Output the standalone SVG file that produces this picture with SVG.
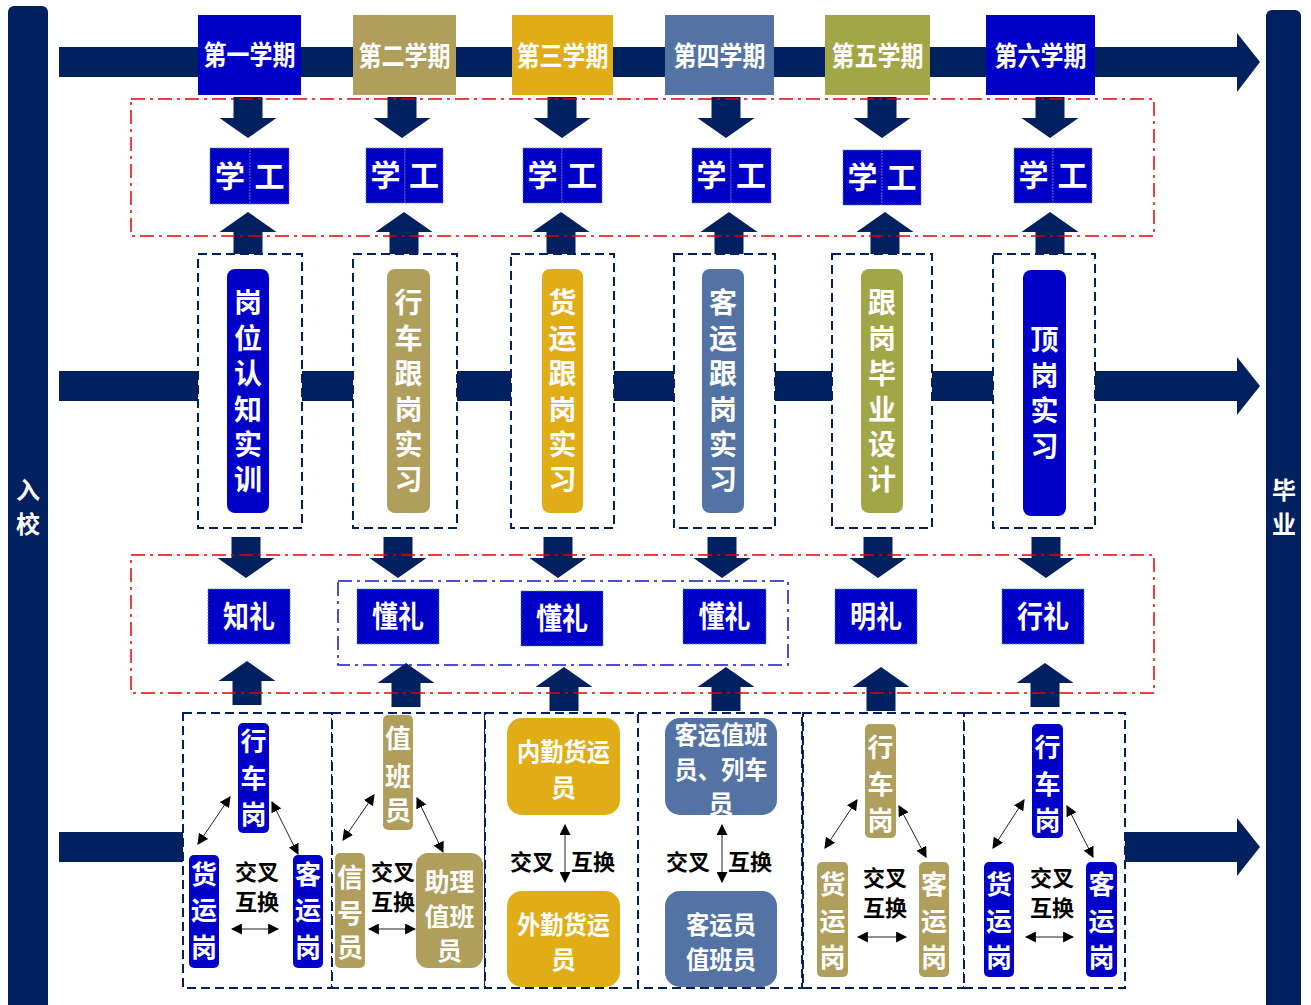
<svg xmlns="http://www.w3.org/2000/svg" width="1311" height="1005" viewBox="0 0 1311 1005">
<style>
.nv{fill:#002060}
.t{font-family:"Noto Sans CJK SC","Noto Sans",sans-serif;font-weight:bold;text-anchor:middle;dominant-baseline:central;transform:translateY(-2px)}
.w{fill:#fff}
.k{fill:#000}
.dash{fill:#fff;stroke:#002060;stroke-width:2;stroke-dasharray:9 5}
.red{fill:none;stroke:#e60000;stroke-width:1.5;stroke-dasharray:14 5 3 5}
.bdd{fill:none;stroke:#1515c8;stroke-width:1.5;stroke-dasharray:14 5 3 5}
.thin{fill:none;stroke:#222;stroke-width:1;marker-start:url(#ah);marker-end:url(#ah)}
.blue{fill:#0000c8}
.tan{fill:#af9e5c}
.gold{fill:#e1ad16}
.steel{fill:#5473a5}
.olive{fill:#a2a647}
.cellL{stroke:#3a9a6a;stroke-width:0.8;stroke-dasharray:2 1}
.cellR{stroke:#8a5acc;stroke-width:0.8;stroke-dasharray:2 1}
</style>
<defs>
<marker id="ah" viewBox="0 0 10 10" refX="9" refY="5" markerWidth="11" markerHeight="11" markerUnits="userSpaceOnUse" orient="auto-start-reverse"><path d="M0,0L10,5L0,10z" fill="#000"/></marker>
<path id="dn" d="M-14.5,0H14.5V21H28.5L0,41L-28.5,21H-14.5Z"/>
<path id="up" d="M0,0L28.5,20H14.5V44H-14.5V20H-28.5Z"/>
</defs>
<rect width="1311" height="1005" fill="#fff"/>

<g id="connectors">
<rect class="nv" x="59" y="47" width="1180" height="30"/>
<polygon class="nv" points="1237,33 1260,62 1237,92"/>
<rect class="nv" x="59" y="371" width="1180" height="30"/>
<polygon class="nv" points="1237,357 1260,386 1237,415"/>
<rect class="nv" x="59" y="832" width="1180" height="30"/>
<polygon class="nv" points="1237,818 1260,847 1237,876"/>
<g class="nv">
<use href="#dn" x="248" y="97"/>
<use href="#dn" x="402" y="97"/>
<use href="#dn" x="562" y="97"/>
<use href="#dn" x="726" y="97"/>
<use href="#dn" x="882" y="97"/>
<use href="#dn" x="1050" y="97"/>
<use href="#up" x="248" y="212"/>
<use href="#up" x="404" y="212"/>
<use href="#up" x="561" y="212"/>
<use href="#up" x="729" y="212"/>
<use href="#up" x="885" y="212"/>
<use href="#up" x="1050" y="212"/>
<use href="#dn" x="246" y="537"/>
<use href="#dn" x="398" y="537"/>
<use href="#dn" x="558" y="537"/>
<use href="#dn" x="722" y="537"/>
<use href="#dn" x="878" y="537"/>
<use href="#dn" x="1046" y="537"/>
<use href="#up" x="247" y="661"/>
<use href="#up" x="406" y="663"/>
<use href="#up" x="564" y="667"/>
<use href="#up" x="726" y="667"/>
<use href="#up" x="881" y="667"/>
<use href="#up" x="1045" y="663"/>
</g>
</g>

<g id="enter">
<rect class="nv" x="8" y="6" width="40" height="1010" rx="6"/>
<text class="t w" x="28" y="490" font-size="24">入</text>
<text class="t w" x="28" y="524" font-size="24">校</text>
</g>
<g id="graduate">
<rect class="nv" x="1266" y="10" width="35" height="1010" rx="6"/>
<text class="t w" x="1284" y="490" font-size="24">毕</text>
<text class="t w" x="1284" y="524" font-size="24">业</text>
</g>

<g id="semesters">
<g id="sem1"><rect class="blue" x="198" y="15" width="103" height="80"/><text class="t w" x="249.5" y="55" font-size="27" textLength="92" lengthAdjust="spacingAndGlyphs">第一学期</text></g>
<g id="sem2"><rect class="tan" x="353" y="15" width="103" height="80"/><text class="t w" x="404.5" y="56" font-size="27" textLength="92" lengthAdjust="spacingAndGlyphs">第二学期</text></g>
<g id="sem3"><rect class="gold" x="512" y="15" width="101" height="80"/><text class="t w" x="562.5" y="56" font-size="27" textLength="92" lengthAdjust="spacingAndGlyphs">第三学期</text></g>
<g id="sem4"><rect class="steel" x="665" y="15" width="109" height="80"/><text class="t w" x="719.5" y="56" font-size="27" textLength="92" lengthAdjust="spacingAndGlyphs">第四学期</text></g>
<g id="sem5"><rect class="olive" x="825" y="15" width="105" height="80"/><text class="t w" x="877.5" y="56" font-size="27" textLength="92" lengthAdjust="spacingAndGlyphs">第五学期</text></g>
<g id="sem6"><rect class="blue" x="986" y="15" width="109" height="80"/><text class="t w" x="1040.5" y="56" font-size="27" textLength="92" lengthAdjust="spacingAndGlyphs">第六学期</text></g>
</g>

<g id="xuegong">
<g id="xg1"><rect class="blue cellL" x="210" y="148" width="40" height="56"/><rect class="blue cellR" x="250" y="148" width="39" height="56"/><text class="t w" x="230" y="176" font-size="30">学</text><text class="t w" x="269.5" y="176" font-size="30">工</text></g>
<g id="xg2"><rect class="blue cellL" x="366" y="148" width="39" height="55"/><rect class="blue cellR" x="405" y="148" width="38" height="55"/><text class="t w" x="385.5" y="175" font-size="30">学</text><text class="t w" x="424" y="175" font-size="30">工</text></g>
<g id="xg3"><rect class="blue cellL" x="523" y="148" width="39" height="55"/><rect class="blue cellR" x="562" y="148" width="40" height="55"/><text class="t w" x="542.5" y="175" font-size="30">学</text><text class="t w" x="582" y="175" font-size="30">工</text></g>
<g id="xg4"><rect class="blue cellL" x="692" y="148" width="39" height="55"/><rect class="blue cellR" x="731" y="148" width="40" height="55"/><text class="t w" x="711.5" y="175" font-size="30">学</text><text class="t w" x="751" y="175" font-size="30">工</text></g>
<g id="xg5"><rect class="blue cellL" x="843" y="150" width="39" height="55"/><rect class="blue cellR" x="882" y="150" width="39" height="55"/><text class="t w" x="862.5" y="177" font-size="30">学</text><text class="t w" x="901.5" y="177" font-size="30">工</text></g>
<g id="xg6"><rect class="blue cellL" x="1014" y="148" width="39" height="55"/><rect class="blue cellR" x="1053" y="148" width="39" height="55"/><text class="t w" x="1033.5" y="175" font-size="30">学</text><text class="t w" x="1072.5" y="175" font-size="30">工</text></g>
</g>

<g id="practice">
<g id="p1"><rect class="dash" x="198" y="254" width="104" height="274"/><rect class="blue" x="227" y="269" width="42" height="244" rx="8"/>
<text class="t w" font-size="28"><tspan x="248" y="303">岗</tspan><tspan x="248" y="338.5">位</tspan><tspan x="248" y="374">认</tspan><tspan x="248" y="409.5">知</tspan><tspan x="248" y="445">实</tspan><tspan x="248" y="480">训</tspan></text></g>
<g id="p2"><rect class="dash" x="353" y="254" width="104" height="274"/><rect class="tan" x="387" y="269" width="43" height="244" rx="8"/>
<text class="t w" font-size="28"><tspan x="408.5" y="303">行</tspan><tspan x="408.5" y="338.5">车</tspan><tspan x="408.5" y="374">跟</tspan><tspan x="408.5" y="409.5">岗</tspan><tspan x="408.5" y="445">实</tspan><tspan x="408.5" y="480">习</tspan></text></g>
<g id="p3"><rect class="dash" x="511" y="254" width="103" height="274"/><rect class="gold" x="542" y="269" width="41" height="244" rx="8"/>
<text class="t w" font-size="28"><tspan x="562.5" y="303">货</tspan><tspan x="562.5" y="338.5">运</tspan><tspan x="562.5" y="374">跟</tspan><tspan x="562.5" y="409.5">岗</tspan><tspan x="562.5" y="445">实</tspan><tspan x="562.5" y="480">习</tspan></text></g>
<g id="p4"><rect class="dash" x="674" y="254" width="101" height="274"/><rect class="steel" x="702" y="269" width="42" height="244" rx="8"/>
<text class="t w" font-size="28"><tspan x="723" y="303">客</tspan><tspan x="723" y="338.5">运</tspan><tspan x="723" y="374">跟</tspan><tspan x="723" y="409.5">岗</tspan><tspan x="723" y="445">实</tspan><tspan x="723" y="480">习</tspan></text></g>
<g id="p5"><rect class="dash" x="832" y="254" width="100" height="274"/><rect class="olive" x="861" y="269" width="42" height="244" rx="8"/>
<text class="t w" font-size="28"><tspan x="882" y="303">跟</tspan><tspan x="882" y="338.5">岗</tspan><tspan x="882" y="374">毕</tspan><tspan x="882" y="409.5">业</tspan><tspan x="882" y="445">设</tspan><tspan x="882" y="480">计</tspan></text></g>
<g id="p6"><rect class="dash" x="993" y="254" width="102" height="274"/><rect class="blue" x="1023" y="270" width="43" height="246" rx="8"/>
<text class="t w" font-size="28"><tspan x="1044.5" y="340">顶</tspan><tspan x="1044.5" y="375.5">岗</tspan><tspan x="1044.5" y="411">实</tspan><tspan x="1044.5" y="446.5">习</tspan></text></g>
</g>

<g id="etiquette">
<g id="l1"><rect class="blue cellL" x="208" y="589" width="82" height="55"/><text class="t w" x="249" y="616" font-size="30" textLength="52" lengthAdjust="spacingAndGlyphs">知礼</text></g>
<g id="l2"><rect class="blue cellL" x="357" y="589" width="82" height="55"/><text class="t w" x="398" y="616" font-size="30" textLength="52" lengthAdjust="spacingAndGlyphs">懂礼</text></g>
<g id="l3"><rect class="blue cellL" x="521" y="591" width="82" height="55"/><text class="t w" x="562" y="618" font-size="30" textLength="52" lengthAdjust="spacingAndGlyphs">懂礼</text></g>
<g id="l4"><rect class="blue cellL" x="683" y="589" width="83" height="55"/><text class="t w" x="724.5" y="616" font-size="30" textLength="52" lengthAdjust="spacingAndGlyphs">懂礼</text></g>
<g id="l5"><rect class="blue cellL" x="835" y="589" width="82" height="55"/><text class="t w" x="876" y="616" font-size="30" textLength="52" lengthAdjust="spacingAndGlyphs">明礼</text></g>
<g id="l6"><rect class="blue cellL" x="1002" y="589" width="82" height="55"/><text class="t w" x="1043" y="616" font-size="30" textLength="52" lengthAdjust="spacingAndGlyphs">行礼</text></g>
</g>

<g id="frames">
<rect class="red" x="131" y="99" width="1023" height="137"/>
<rect class="red" x="131" y="555" width="1023" height="138"/>
<rect class="bdd" x="338" y="581" width="450" height="84"/>
</g>

<g id="posts">
<g id="b1"><rect class="dash" x="183" y="713" width="149" height="275"/>
<rect class="blue" x="238" y="723" width="31" height="110" rx="5"/>
<text class="t w" font-size="26"><tspan x="253.5" y="741">行</tspan><tspan x="253.5" y="778">车</tspan><tspan x="253.5" y="814">岗</tspan></text>
<rect class="blue" x="189" y="855" width="30" height="113" rx="5"/>
<text class="t w" font-size="26"><tspan x="204" y="874">货</tspan><tspan x="204" y="910">运</tspan><tspan x="204" y="947">岗</tspan></text>
<rect class="blue" x="293" y="855" width="30" height="113" rx="5"/>
<text class="t w" font-size="26"><tspan x="308" y="874">客</tspan><tspan x="308" y="910">运</tspan><tspan x="308" y="947">岗</tspan></text>
<text class="t k" font-size="22"><tspan x="257" y="872">交叉</tspan><tspan x="257" y="902">互换</tspan></text>
<line class="thin" x1="232" y1="929" x2="278" y2="929"/>
<line class="thin" x1="230" y1="797" x2="198" y2="844"/>
<line class="thin" x1="272" y1="802" x2="298" y2="854"/>
</g>
<g id="b2"><rect class="dash" x="332" y="713" width="153" height="275"/>
<rect class="tan" x="383" y="715" width="30" height="115" rx="5"/>
<text class="t w" font-size="26"><tspan x="398" y="738">值</tspan><tspan x="398" y="776">班</tspan><tspan x="398" y="810">员</tspan></text>
<rect class="tan" x="335" y="853" width="30" height="115" rx="5"/>
<text class="t w" font-size="26"><tspan x="350" y="877">信</tspan><tspan x="350" y="913">号</tspan><tspan x="350" y="947">员</tspan></text>
<rect class="tan" x="416" y="853" width="67" height="115" rx="12"/>
<text class="t w" font-size="25"><tspan x="449.5" y="882">助理</tspan><tspan x="449.5" y="917">值班</tspan><tspan x="449.5" y="951">员</tspan></text>
<text class="t k" font-size="22"><tspan x="393" y="872">交叉</tspan><tspan x="393" y="902">互换</tspan></text>
<line class="thin" x1="369" y1="929" x2="415" y2="929"/>
<line class="thin" x1="374" y1="795" x2="343" y2="840"/>
<line class="thin" x1="417" y1="798" x2="443" y2="852"/>
</g>
<g id="b3"><rect class="dash" x="485" y="713" width="153" height="275"/>
<rect class="gold" x="507" y="718" width="113" height="97" rx="15"/>
<text class="t w" font-size="25"><tspan x="563.5" y="752" textLength="93" lengthAdjust="spacingAndGlyphs">内勤货运</tspan><tspan x="563.5" y="788">员</tspan></text>
<rect class="gold" x="507" y="891" width="113" height="96" rx="15"/>
<text class="t w" font-size="25"><tspan x="563.5" y="925" textLength="93" lengthAdjust="spacingAndGlyphs">外勤货运</tspan><tspan x="563.5" y="960">员</tspan></text>
<line class="thin" x1="565" y1="825" x2="565" y2="882"/>
<text class="t k" font-size="22" x="532" y="862">交叉</text>
<text class="t k" font-size="22" x="593" y="862">互换</text>
</g>
<g id="b4"><rect class="dash" x="638" y="713" width="164" height="275"/>
<rect class="steel" x="665" y="718" width="112" height="97" rx="15"/>
<text class="t w" font-size="25"><tspan x="721" y="735" textLength="93" lengthAdjust="spacingAndGlyphs">客运值班</tspan><tspan x="721" y="770" textLength="93" lengthAdjust="spacingAndGlyphs">员、列车</tspan><tspan x="721" y="804">员</tspan></text>
<rect class="steel" x="665" y="891" width="112" height="96" rx="15"/>
<text class="t w" font-size="25"><tspan x="721" y="925" textLength="70" lengthAdjust="spacingAndGlyphs">客运员</tspan><tspan x="721" y="960" textLength="70" lengthAdjust="spacingAndGlyphs">值班员</tspan></text>
<line class="thin" x1="722" y1="825" x2="722" y2="882"/>
<text class="t k" font-size="22" x="688" y="862">交叉</text>
<text class="t k" font-size="22" x="750" y="862">互换</text>
</g>
<g id="b5"><rect class="dash" x="803" y="713" width="161" height="275"/>
<rect class="tan" x="865" y="724" width="31" height="114" rx="5"/>
<text class="t w" font-size="26"><tspan x="880.5" y="747">行</tspan><tspan x="880.5" y="784">车</tspan><tspan x="880.5" y="820">岗</tspan></text>
<rect class="tan" x="817" y="862" width="31" height="115" rx="5"/>
<text class="t w" font-size="26"><tspan x="832.5" y="884">货</tspan><tspan x="832.5" y="921">运</tspan><tspan x="832.5" y="957">岗</tspan></text>
<rect class="tan" x="919" y="862" width="30" height="115" rx="5"/>
<text class="t w" font-size="26"><tspan x="934" y="884">客</tspan><tspan x="934" y="921">运</tspan><tspan x="934" y="957">岗</tspan></text>
<text class="t k" font-size="22"><tspan x="885" y="878">交叉</tspan><tspan x="885" y="908">互换</tspan></text>
<line class="thin" x1="858" y1="937" x2="906" y2="937"/>
<line class="thin" x1="857" y1="800" x2="825" y2="848"/>
<line class="thin" x1="899" y1="806" x2="926" y2="857"/>
</g>
<g id="b6"><rect class="dash" x="964" y="713" width="161" height="275"/>
<rect class="blue" x="1032" y="724" width="31" height="114" rx="5"/>
<text class="t w" font-size="26"><tspan x="1047.5" y="747">行</tspan><tspan x="1047.5" y="784">车</tspan><tspan x="1047.5" y="820">岗</tspan></text>
<rect class="blue" x="984" y="862" width="30" height="115" rx="5"/>
<text class="t w" font-size="26"><tspan x="999" y="884">货</tspan><tspan x="999" y="921">运</tspan><tspan x="999" y="957">岗</tspan></text>
<rect class="blue" x="1086" y="862" width="31" height="115" rx="5"/>
<text class="t w" font-size="26"><tspan x="1101.5" y="884">客</tspan><tspan x="1101.5" y="921">运</tspan><tspan x="1101.5" y="957">岗</tspan></text>
<text class="t k" font-size="22"><tspan x="1052" y="878">交叉</tspan><tspan x="1052" y="908">互换</tspan></text>
<line class="thin" x1="1026" y1="937" x2="1073" y2="937"/>
<line class="thin" x1="1024" y1="800" x2="993" y2="848"/>
<line class="thin" x1="1067" y1="806" x2="1093" y2="857"/>
</g>
</g>
</svg>
